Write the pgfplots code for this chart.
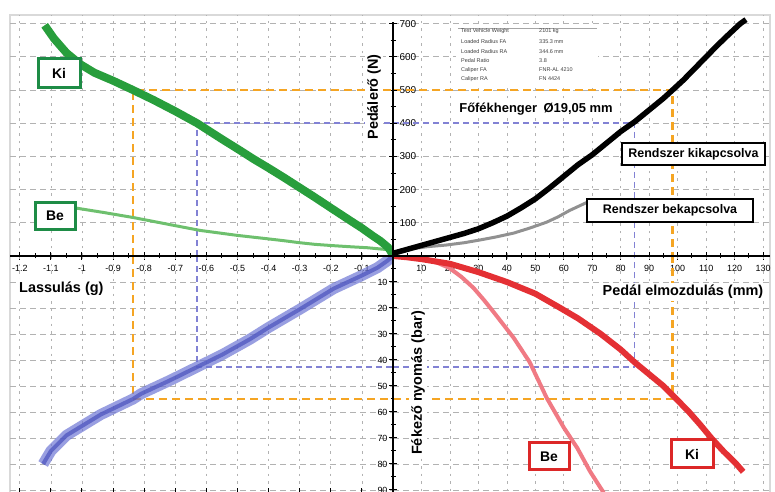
\documentclass[border=0pt]{standalone}
\usepackage{pgfplots}
\pgfplotsset{compat=1.18}
\usepackage{fontspec}
\setmainfont{Liberation Sans}
\definecolor{gKi}{RGB}{40,158,60}
\definecolor{gBe}{RGB}{110,192,110}
\definecolor{gBox}{RGB}{30,140,70}
\definecolor{bBand}{RGB}{110,118,212}
\definecolor{bCore}{RGB}{78,86,192}
\definecolor{rKi}{RGB}{228,48,52}
\definecolor{rBe}{RGB}{240,122,132}
\definecolor{rBox}{RGB}{220,40,40}
\definecolor{oDash}{RGB}{245,165,35}
\definecolor{bDash}{RGB}{130,130,212}
\definecolor{grCurve}{RGB}{145,145,145}
\pgfplotsset{
  quad/.style={
    scale only axis, axis line style={draw=none},
    grid=major,
    x grid style={gray!60, line width=0.7bp, dash pattern=on 2.5bp off 5bp},
    y grid style={gray!60, line width=0.7bp, dash pattern=on 6bp off 4bp},
    tick align=center, major tick length=8bp, minor tick length=5bp,
    tick style={black, line width=1bp},
    tick label style={font=\fontsize{9}{10}\selectfont},
  },
  odash/.style={oDash, line width=2.5bp, dash pattern=on 8bp off 5bp},
  bdash/.style={bDash, line width=1.5bp, dash pattern=on 6bp off 4bp},
}
\begin{document}
\begin{tikzpicture}
\path[use as bounding box] (0bp,0bp) rectangle (775bp,492bp);
\draw[gray!30, line width=1.2bp] (10bp,-1bp) rectangle (770bp,477bp);

% Q1: pedal travel (mm) vs pedal force (N)
\begin{axis}[quad, at={(393bp,236bp)}, anchor=south west, width=377.2bp, height=241bp,
  xmin=0, xmax=132.5, ymin=0, ymax=726,
  xtick={10,20,30,40,50,60,70,80,90,100,110,120,130},
  xticklabels={10,20,30,40,50,60,70,80,90,100,110,120,130},
  minor xtick={5,15,25,35,45,55,65,75,85,95,105,115,125},
  ytick={100,200,300,400,500,600,700},
  yticklabels={100,200,300,400,500,600,700},
  minor ytick={50,150,250,350,450,550,650},
  xtick pos=left, ytick pos=left, xticklabel pos=left, yticklabel pos=left,
  xticklabel style={yshift=-2bp},
  yticklabel style={anchor=west, xshift=7bp, font=\fontsize{10}{11}\selectfont}]
\addplot[odash] coordinates {(0,500) (98.2,500) (98.2,0)};
\addplot[bdash] coordinates {(0,400) (84.8,400) (84.8,0)};
\addplot[grCurve, line width=3bp] coordinates {(0,5) (7,22) (12,28) (18.7,33) (25,40) (30.4,48) (36,57) (42.4,69) (48,84) (54,102) (58,118) (62,137) (66,153) (69.5,167)};
\addplot[black, line width=5.5bp] coordinates {(0,8) (5,20) (10,32) (15,44) (20,56) (25,68) (30,82) (35,100) (40,120) (45,145) (50,172) (55,205) (60,240) (65,275) (70,305) (75,340) (80,375) (85,405) (90,440) (95,475) (98.2,500) (102,530) (106,565) (110,600) (114,635) (118,668) (122,700) (124,712)};
\end{axis}

% Q2: deceleration (g) vs pedal force (N)
\begin{axis}[quad, at={(393bp,236bp)}, anchor=south east, width=383bp, height=241bp,
  xmin=-1.2315, xmax=0, ymin=0, ymax=726,
  xtick={-1.2,-1.1,-1,-0.9,-0.8,-0.7,-0.6,-0.5,-0.4,-0.3,-0.2,-0.1},
  xticklabels={-1.2,-1.1,-1,-0.9,-0.8,-0.7,-0.6,-0.5,-0.4,-0.3,-0.2,-0.1},
  minor xtick={-1.15,-1.05,-0.95,-0.85,-0.75,-0.65,-0.55,-0.45,-0.35,-0.25,-0.15,-0.05},
  ytick={100,200,300,400,500,600,700}, yticklabels={},
  xtick pos=left, ytick pos=right, xticklabel pos=left,
  xticklabel style={yshift=-2bp}]
\addplot[odash] coordinates {(-0.836,0) (-0.836,500) (0,500)};
\addplot[bdash] coordinates {(-0.63,0) (-0.63,400) (0,400)};
\addplot[gBe, line width=3bp] coordinates {(0,0) (-0.005,12) (-0.016,19) (-0.05,22) (-0.084,25) (-0.14,28) (-0.19,31) (-0.25,35) (-0.3,40) (-0.35,46) (-0.405,52) (-0.5,62) (-0.62,77) (-0.72,95) (-0.836,116) (-0.93,131) (-1.03,146) (-1.06,150)};
\addplot[gKi, line width=8bp] coordinates {(0,0) (-0.008,15) (-0.016,26) (-0.04,45) (-0.064,60) (-0.1,84) (-0.138,107) (-0.2,145) (-0.25,176) (-0.3,206) (-0.35,236) (-0.4,265) (-0.45,293) (-0.49,317) (-0.55,352) (-0.63,400) (-0.7,436) (-0.77,470) (-0.836,500) (-0.9,528) (-0.96,552) (-1.006,578) (-1.05,612) (-1.09,655) (-1.12,695)};
\end{axis}

% Q3: deceleration (g) vs brake pressure (bar)
\begin{axis}[quad, at={(393bp,236bp)}, anchor=north east, width=383bp, height=235.95bp,
  y dir=reverse, xmin=-1.2315, xmax=0, ymin=0, ymax=90.75,
  xtick={-1.2,-1.1,-1,-0.9,-0.8,-0.7,-0.6,-0.5,-0.4,-0.3,-0.2,-0.1}, xticklabels={},
  xtick pos=left,
  ytick={10,20,30,40,50,60,70,80,90}, yticklabels={10,20,30,40,50,60,70,80,90},
  minor ytick={5,15,25,35,45,55,65,75,85},
  ytick pos=right, yticklabel pos=right,
  yticklabel style={anchor=east, xshift=-6bp}]
\addplot[odash] coordinates {(-0.836,0) (-0.836,55) (0,55)};
\addplot[bdash] coordinates {(-0.63,0) (-0.63,42.7) (0,42.7)};
\addplot[bBand, line width=11bp, opacity=0.7] coordinates {(0,0) (-0.02,2) (-0.05,4.5) (-0.1,7.5) (-0.19,12.5) (-0.3,20.5) (-0.4,27.5) (-0.46,32) (-0.55,38) (-0.63,42.7) (-0.72,48) (-0.81,53) (-0.836,55) (-0.94,61) (-1.05,69) (-1.1,75) (-1.125,80)};
\addplot[bCore, line width=4bp, opacity=0.75] coordinates {(0,0) (-0.02,2) (-0.05,4.5) (-0.1,7.5) (-0.19,12.5) (-0.3,20.5) (-0.4,27.5) (-0.46,32) (-0.55,38) (-0.63,42.7) (-0.72,48) (-0.81,53) (-0.836,55) (-0.94,61) (-1.05,69) (-1.1,75) (-1.125,80)};
\end{axis}

% Q4: pedal travel (mm) vs brake pressure (bar)
\begin{axis}[quad, at={(393bp,236bp)}, anchor=north west, width=377.2bp, height=235.95bp,
  y dir=reverse, xmin=0, xmax=132.5, ymin=0, ymax=90.75,
  xtick={10,20,30,40,50,60,70,80,90,100,110,120,130}, xticklabels={},
  ytick={10,20,30,40,50,60,70,80,90}, yticklabels={},
  xtick pos=left, ytick pos=left, tick style={draw=none}]
\addplot[odash] coordinates {(0,55) (98.2,55) (98.2,0)};
\addplot[bdash] coordinates {(0,42.7) (84.8,42.7) (84.8,0)};
\addplot[rBe, line width=4bp] coordinates {(0,0) (8,0.8) (12.7,1.5) (16,2.8) (19.8,4.6) (24,8) (28.3,12.3) (32,17) (35.3,21.5) (42.4,31.5) (48,40.8) (54,54.6) (60,66) (64.7,73.8) (69.3,83) (72.8,89) (74,91)};
\addplot[rKi, line width=6bp] coordinates {(0,0) (5,0.5) (10,1.2) (20,3) (30,6.2) (40,10) (50,14.5) (58,19.5) (65,24) (73,30) (80,36) (85,41) (90,45.5) (95,50) (98.2,53.5) (104,60) (108,65) (111.8,70) (116,75) (120.6,80) (123,83)};
\end{axis}

% central axes
\draw[black, line width=2bp] (10bp,236bp) -- (770bp,236bp);
\draw[black, line width=2.2bp] (393bp,0bp) -- (393bp,470bp);

% axis titles
\node[fill=white, inner sep=3bp, anchor=west, font=\bfseries\fontsize{14.5}{16}\selectfont] at (16bp,203bp) {Lassulás (g)};
\node[fill=white, inner sep=2bp, font=\bfseries\fontsize{14.5}{16}\selectfont] at (683bp,200bp) {Pedál elmozdulás (mm)};
\node[fill=white, inner sep=2bp, rotate=90, font=\bfseries\fontsize{14.5}{16}\selectfont] at (374bp,395bp) {Pedálerő (N)};
\node[fill=white, inner sep=2bp, rotate=90, font=\bfseries\fontsize{14.5}{16}\selectfont] at (418bp,109bp) {Fékező nyomás (bar)};
\node[fill=white, inner sep=1.5bp, font=\bfseries\fontsize{13}{14}\selectfont] at (536bp,383bp) {Főfékhenger\enspace Ø19,05 mm};

% info table
\fill[white] (456bp,408bp) rectangle (598bp,468bp);
\draw[gray!70, line width=0.5bp] (458bp,464bp) -- (597bp,464bp);
\begin{scope}[every node/.style={anchor=west, inner sep=0pt, text=black!75, font=\fontsize{5.5}{6}\selectfont}]
\node at (461bp,461bp) {Test Vehicle Weight}; \node at (539bp,461bp) {2101 kg};
\node at (461bp,450.5bp) {Loaded Radius FA}; \node at (539bp,450.5bp) {335.3 mm};
\node at (461bp,440.5bp) {Loaded Radius RA}; \node at (539bp,440.5bp) {344.6 mm};
\node at (461bp,431bp) {Pedal Ratio}; \node at (539bp,431bp) {3.8};
\node at (461bp,422bp) {Caliper FA}; \node at (539bp,422bp) {FNR-AL 4210};
\node at (461bp,413bp) {Caliper RA}; \node at (539bp,413bp) {FN 4424};
\end{scope}

% boxed labels
\node[draw=black, line width=2bp, fill=white, minimum width=143bp, minimum height=22bp, inner sep=2bp, font=\bfseries\fontsize{12.5}{14}\selectfont] at (693.5bp,338bp) {Rendszer kikapcsolva};
\node[draw=black, line width=2bp, fill=white, minimum width=166bp, minimum height=23bp, inner sep=2bp, font=\bfseries\fontsize{12.5}{14}\selectfont] at (670bp,281.5bp) {Rendszer bekapcsolva};
\node[draw=gBox, line width=3bp, fill=white, minimum width=42bp, minimum height=29bp, inner sep=1bp, font=\bfseries\fontsize{14}{16}\selectfont] at (59bp,419bp) {Ki};
\node[draw=gBox, line width=3bp, fill=white, minimum width=40bp, minimum height=27bp, inner sep=1bp, font=\bfseries\fontsize{14}{16}\selectfont] at (55bp,276bp) {Be};
\node[draw=rBox, line width=3bp, fill=white, minimum width=40bp, minimum height=27bp, inner sep=1bp, font=\bfseries\fontsize{14}{16}\selectfont] at (549bp,35.5bp) {Be};
\node[draw=rBox, line width=3bp, fill=white, minimum width=42bp, minimum height=28bp, inner sep=1bp, font=\bfseries\fontsize{14}{16}\selectfont] at (692bp,38bp) {Ki};
\end{tikzpicture}
\end{document}
